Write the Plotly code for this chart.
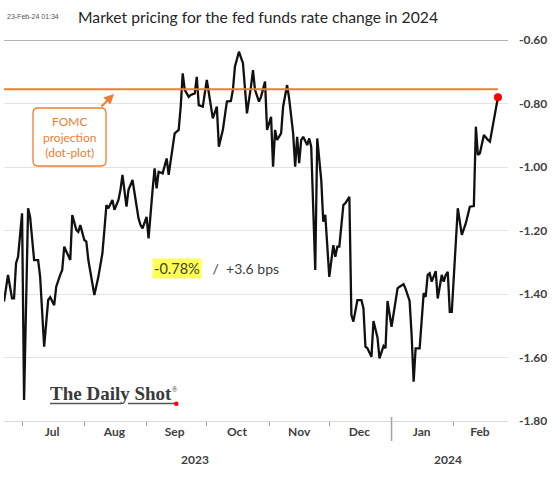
import plotly.graph_objects as go

# ---------------- data ----------------
dates = [
    "2023-06-22", "2023-06-24", "2023-06-26", "2023-06-27", "2023-06-28", "2023-06-29",
    "2023-07-01", "2023-07-02", "2023-07-04", "2023-07-05", "2023-07-07", "2023-07-09",
    "2023-07-10", "2023-07-12", "2023-07-14", "2023-07-15", "2023-07-17", "2023-07-18",
    "2023-07-20", "2023-07-21", "2023-07-22", "2023-07-25", "2023-07-26", "2023-07-28",
    "2023-07-29", "2023-07-30", "2023-08-01", "2023-08-02", "2023-08-03", "2023-08-05",
    "2023-08-06", "2023-08-08", "2023-08-10", "2023-08-11", "2023-08-12", "2023-08-13",
    "2023-08-15", "2023-08-16", "2023-08-18", "2023-08-19", "2023-08-20", "2023-08-22",
    "2023-08-23", "2023-08-25", "2023-08-26", "2023-08-28", "2023-08-29", "2023-08-30",
    "2023-09-01", "2023-09-02", "2023-09-04", "2023-09-05", "2023-09-06", "2023-09-07",
    "2023-09-09", "2023-09-11", "2023-09-12", "2023-09-14", "2023-09-15", "2023-09-17",
    "2023-09-18", "2023-09-19", "2023-09-20", "2023-09-22", "2023-09-23", "2023-09-25",
    "2023-09-26", "2023-09-27", "2023-09-29", "2023-10-01", "2023-10-03", "2023-10-04",
    "2023-10-06", "2023-10-07", "2023-10-09", "2023-10-11", "2023-10-13", "2023-10-14",
    "2023-10-15", "2023-10-17", "2023-10-19", "2023-10-20", "2023-10-21", "2023-10-23",
    "2023-10-24", "2023-10-25", "2023-10-27", "2023-10-28", "2023-10-30", "2023-10-31",
    "2023-11-02", "2023-11-03", "2023-11-04", "2023-11-05", "2023-11-07", "2023-11-08",
    "2023-11-10", "2023-11-11", "2023-11-13", "2023-11-14", "2023-11-15", "2023-11-16",
    "2023-11-17", "2023-11-18", "2023-11-20", "2023-11-21", "2023-11-22", "2023-11-24",
    "2023-11-25", "2023-11-27", "2023-11-28", "2023-11-29", "2023-12-01", "2023-12-03",
    "2023-12-04", "2023-12-05", "2023-12-06", "2023-12-08", "2023-12-09", "2023-12-11",
    "2023-12-12", "2023-12-13", "2023-12-15", "2023-12-17", "2023-12-18", "2023-12-19",
    "2023-12-20", "2023-12-22", "2023-12-23", "2023-12-25", "2023-12-26", "2023-12-28",
    "2023-12-29", "2023-12-30", "2024-01-01", "2024-01-02", "2024-01-04", "2024-01-05",
    "2024-01-07", "2024-01-08", "2024-01-10", "2024-01-11", "2024-01-12", "2024-01-13",
    "2024-01-15", "2024-01-17", "2024-01-18", "2024-01-19", "2024-01-20", "2024-01-21",
    "2024-01-23", "2024-01-24", "2024-01-26", "2024-01-27", "2024-01-28", "2024-01-29",
    "2024-01-30", "2024-01-31", "2024-02-03", "2024-02-05", "2024-02-07", "2024-02-09",
    "2024-02-11", "2024-02-12", "2024-02-13", "2024-02-14", "2024-02-16", "2024-02-18",
    "2024-02-19", "2024-02-23",
]
rate_change = [
    -1.424, -1.340, -1.414, -1.414, -1.303, -1.283, -1.146, -1.734, -1.130, -1.157,
    -1.293, -1.293, -1.346, -1.566, -1.419, -1.410, -1.435, -1.377, -1.340, -1.324,
    -1.251, -1.293, -1.151, -1.198, -1.204, -1.183, -1.230, -1.235, -1.293, -1.366,
    -1.403, -1.346, -1.272, -1.198, -1.120, -1.130, -1.104, -1.135, -1.104, -1.072,
    -1.025, -1.125, -1.072, -1.041, -1.083, -1.162, -1.183, -1.193, -1.157, -1.225,
    -1.072, -1.004, -1.067, -1.015, -1.020, -0.973, -1.025, -0.936, -0.894, -0.883,
    -0.810, -0.705, -0.757, -0.779, -0.773, -0.768, -0.716, -0.805, -0.810, -0.726,
    -0.805, -0.847, -0.810, -0.936, -0.883, -0.794, -0.792, -0.757, -0.684, -0.637,
    -0.673, -0.757, -0.831, -0.747, -0.695, -0.757, -0.794, -0.779, -0.731, -0.883,
    -0.842, -0.999, -0.883, -0.915, -0.894, -0.810, -0.742, -0.784, -0.894, -0.999,
    -0.905, -0.988, -0.915, -0.905, -0.931, -0.910, -0.936, -1.324, -0.910, -1.041,
    -1.172, -1.151, -1.346, -1.246, -1.283, -1.251, -1.251, -1.120, -1.114, -1.094,
    -1.466, -1.487, -1.419, -1.419, -1.445, -1.566, -1.571, -1.598, -1.485, -1.537,
    -1.603, -1.564, -1.571, -1.422, -1.503, -1.463, -1.382, -1.377, -1.369, -1.384,
    -1.422, -1.529, -1.676, -1.571, -1.571, -1.397, -1.409, -1.340, -1.335, -1.361,
    -1.328, -1.414, -1.340, -1.361, -1.340, -1.330, -1.456, -1.456, -1.130, -1.214,
    -1.177, -1.125, -1.123, -0.873, -0.962, -0.957, -0.899, -0.915, -0.920, -0.780,
]
fomc_projection = -0.755
y_ticks = [-0.60, -0.80, -1.00, -1.20, -1.40, -1.60, -1.80]
y_tick_labels = ["-0.60", "-0.80", "-1.00", "-1.20", "-1.40", "-1.60", "-1.80"]
month_label_dates = ["2023-07-16", "2023-08-16", "2023-09-15", "2023-10-16",
                     "2023-11-16", "2023-12-16", "2024-01-16", "2024-02-14"]
month_labels = ["Jul", "Aug", "Sep", "Oct", "Nov", "Dec", "Jan", "Feb"]
month_starts = ["2023-07-01", "2023-08-01", "2023-09-01", "2023-10-01",
                "2023-11-01", "2023-12-01", "2024-02-01"]
year_break = "2024-01-01"
x_range = ["2023-06-22", "2024-02-28"]

# ---------------- layout helpers ----------------
W, H = 560, 479
PL, PR, PT, PB = 4, 508, 40, 421


def px(x):
    return (x - PL) / (PR - PL)


def py(y):
    return (PB - y) / (PB - PT)


ORANGE = "#ED7D31"
TXT = "#404040"

fig = go.Figure()
fig.add_trace(go.Scatter(x=dates, y=rate_change, mode="lines",
                         line=dict(color="#111111", width=2.3), hoverinfo="skip",
                         showlegend=False))
fig.add_trace(go.Scatter(x=[dates[-1]], y=[rate_change[-1]], mode="markers",
                         marker=dict(color="#FF0000", size=8), showlegend=False,
                         hoverinfo="skip"))

shapes = []
# top rule at -0.60
shapes.append(dict(type="line", xref="paper", yref="y", x0=0, x1=1, y0=-0.60, y1=-0.60,
                   line=dict(color="#9a9a9a", width=1.5), layer="below"))
# FOMC projection line
shapes.append(dict(type="line", xref="x", yref="y", x0=dates[0], x1=dates[-1],
                   y0=fomc_projection, y1=fomc_projection,
                   line=dict(color=ORANGE, width=2)))
# year separator
shapes.append(dict(type="line", xref="x", yref="paper", x0=year_break, x1=year_break,
                   y0=py(417), y1=py(441), line=dict(color="#a6a6a6", width=1.5)))
# rounded FOMC box
bx0, bx1, by0, by1, r = 33, 106, 108, 166, 5
path = (f"M {px(bx0 + r)},{py(by0)} L {px(bx1 - r)},{py(by0)} "
        f"Q {px(bx1)},{py(by0)} {px(bx1)},{py(by0 + r)} "
        f"L {px(bx1)},{py(by1 - r)} Q {px(bx1)},{py(by1)} {px(bx1 - r)},{py(by1)} "
        f"L {px(bx0 + r)},{py(by1)} Q {px(bx0)},{py(by1)} {px(bx0)},{py(by1 - r)} "
        f"L {px(bx0)},{py(by0 + r)} Q {px(bx0)},{py(by0)} {px(bx0 + r)},{py(by0)} Z")
shapes.append(dict(type="path", xref="paper", yref="paper", path=path,
                   line=dict(color=ORANGE, width=1.3), fillcolor="white"))
# logo underlines and red dot
shapes.append(dict(type="line", xref="paper", yref="paper", x0=px(50), x1=px(121),
                   y0=py(403.5), y1=py(403.5), line=dict(color="#555555", width=1.5)))
shapes.append(dict(type="line", xref="paper", yref="paper", x0=px(128), x1=px(175),
                   y0=py(403.5), y1=py(403.5), line=dict(color="#555555", width=1.5)))
shapes.append(dict(type="circle", xref="paper", yref="paper",
                   x0=px(174), x1=px(178.5), y0=py(401.5), y1=py(406),
                   fillcolor="#FF0000", line=dict(width=0)))

annotations = []
annotations.append(dict(xref="paper", yref="paper", x=px(69.5), y=py(137),
                        text="FOMC<br>projection<br>(dot-plot)", showarrow=False,
                        font=dict(family="Lato", size=12, color=ORANGE),
                        align="center", xanchor="center", yanchor="middle"))
annotations.append(dict(xref="paper", yref="paper", x=px(114), y=py(94),
                        ax=-14, ay=14, axref="pixel", ayref="pixel", text=" ",
                        showarrow=True, arrowhead=2, arrowsize=1, arrowwidth=2,
                        arrowcolor=ORANGE, font=dict(size=1)))
annotations.append(dict(xref="paper", yref="paper", x=px(152), y=py(268),
                        text="-0.78%", showarrow=False, bgcolor="#FFFF55",
                        borderpad=1, font=dict(family="Lato", size=14.5, color=TXT),
                        xanchor="left", yanchor="middle"))
annotations.append(dict(xref="paper", yref="paper", x=px(207), y=py(268),
                        text=" /  +3.6 bps", showarrow=False,
                        font=dict(family="Lato", size=14, color=TXT),
                        xanchor="left", yanchor="middle"))
annotations.append(dict(xref="paper", yref="paper", x=px(48), y=py(393),
                        text="<b>The Daily Shot</b><sup><span style='font-size:8px'>®</span></sup>",
                        showarrow=False,
                        font=dict(family="Liberation Serif", size=19, color="#3a3a3a"),
                        xanchor="left", yanchor="middle"))
annotations.append(dict(xref="paper", yref="paper", x=px(195), y=py(459),
                        text="<b>2023</b>", showarrow=False,
                        font=dict(family="Lato", size=12, color=TXT),
                        xanchor="center", yanchor="middle"))
annotations.append(dict(xref="paper", yref="paper", x=px(448), y=py(459),
                        text="<b>2024</b>", showarrow=False,
                        font=dict(family="Lato", size=12, color=TXT),
                        xanchor="center", yanchor="middle"))
# title and timestamp
annotations.append(dict(xref="paper", yref="paper", x=px(258), y=py(17),
                        text="Market pricing for the fed funds rate change in 2024",
                        showarrow=False, font=dict(family="Lato", size=15.7, color="#262626"),
                        xanchor="center", yanchor="middle"))
annotations.append(dict(xref="paper", yref="paper", x=px(5), y=py(17),
                        text="23-Feb-24 01:34", showarrow=False,
                        font=dict(family="Liberation Sans Narrow, Liberation Sans", size=7, color="#555555"),
                        xanchor="left", yanchor="middle"))

fig.update_layout(
    width=W, height=H,
    margin=dict(l=PL, r=W - PR, t=PT, b=H - PB),
    paper_bgcolor="white", plot_bgcolor="white",
    shapes=shapes, annotations=annotations,
    showlegend=False,
    xaxis=dict(type="date", range=x_range, showgrid=False, zeroline=False,
               tickmode="array", tickvals=month_label_dates, ticktext=month_labels,
               ticks="", tickfont=dict(family="Lato", size=12, color=TXT, weight="bold"),
               showline=True, linecolor="#d9d9d9", linewidth=1,
               minor=dict(tickmode="array", tickvals=month_starts, ticks="outside",
                          ticklen=4, tickcolor="#9a9a9a", tickwidth=1, showgrid=False),
               fixedrange=True),
    yaxis=dict(side="right", range=[-1.80, -0.60], tickmode="array",
               tickvals=y_ticks, ticktext=y_tick_labels, ticks="",
               showgrid=True, gridcolor="#e3e3e3", gridwidth=1, zeroline=False,
               tickfont=dict(family="Lato", size=12, color=TXT, weight="bold"),
               ticklabelstandoff=10, fixedrange=True),
)

fig.write_html("out.html")
